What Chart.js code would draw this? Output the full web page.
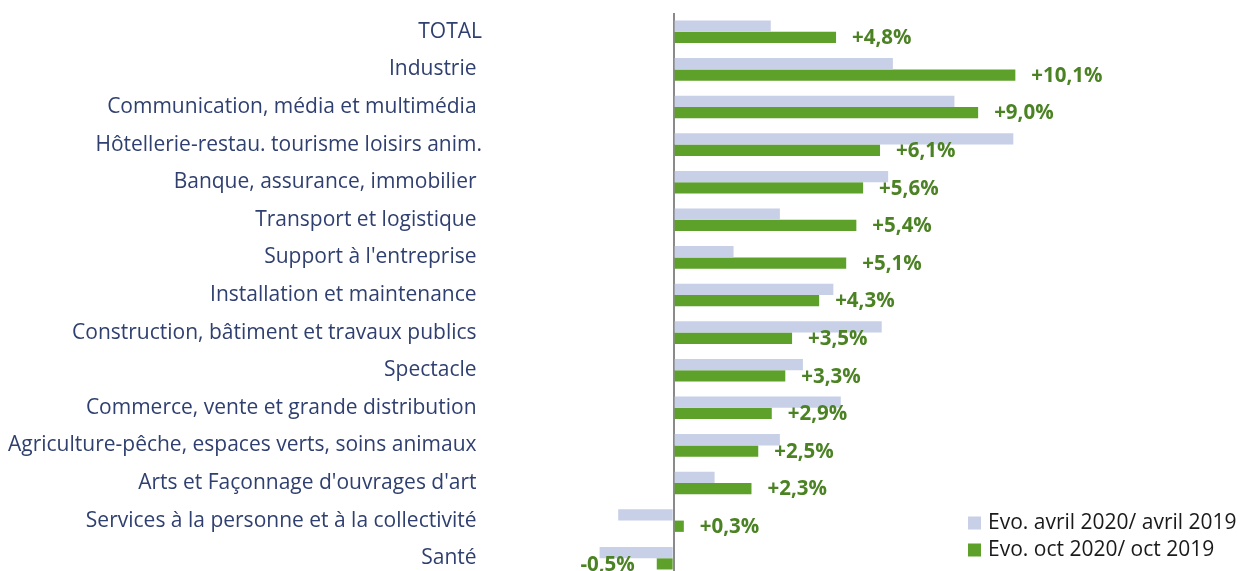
<!DOCTYPE html>
<html>
<head>
<meta charset="utf-8">
<script src="https://cdn.jsdelivr.net/npm/chart.js@4.4.1/dist/chart.umd.min.js"></script>
<style>
  body { margin:0; background:#fff; overflow:hidden; }
  #box { width:1242px; height:571px; overflow:hidden; }
</style>
</head>
<body>
<div id="box"><canvas id="evoChart" width="1242" height="577"></canvas></div>
<script>

const categories = [
  "TOTAL",
  "Industrie ",
  "Communication, média et multimédia ",
  "Hôtellerie-restau. tourisme loisirs anim.",
  "Banque, assurance, immobilier ",
  "Transport et logistique ",
  "Support à l'entreprise ",
  "Installation et maintenance ",
  "Construction, bâtiment et travaux publics ",
  "Spectacle ",
  "Commerce, vente et grande distribution ",
  "Agriculture-pêche, espaces verts, soins animaux ",
  "Arts et Façonnage d'ouvrages d'art ",
  "Services à la personne et à la collectivité ",
  "Santé "
];

const seriesNames = [
  "Evo. avril 2020/ avril 2019",
  "Evo. oct 2020/ oct 2019"
];

const evoAvril = [2.87, 6.48, 8.3, 10.04, 6.34, 3.14, 1.77, 4.72, 6.15, 3.82, 4.94, 3.14, 1.21, -1.64, -2.19];

const evoOct = [4.8, 10.1, 9.0, 6.1, 5.6, 5.4, 5.1, 4.3, 3.5, 3.3, 2.9, 2.5, 2.3, 0.3, -0.5];

/* etiquettes des valeurs (serie oct) */

const valueLabels = {
  id:'valueLabels',
  afterDatasetsDraw(chart){
    const ctx = chart.ctx;
    const meta = chart.getDatasetMeta(1);
    ctx.save();
    ctx.font = "bold 20.5px 'Open Sans'";
    ctx.fillStyle = "#4b8223";
    ctx.textBaseline = "middle";
    meta.data.forEach((bar, i) => {
      const v = evoOct[i];
      const txt = (v > 0 ? "+" : "") + v.toFixed(1).replace(".", ",") + "%";
      if (v < 0) {
        ctx.textAlign = "right";
        ctx.fillText(txt, bar.x - 22, bar.y + 1);
      } else {
        ctx.textAlign = "left";
        ctx.fillText(txt, bar.x + 16, bar.y + 1);
      }
    });
    ctx.restore();
  }
};

/* legende en bas a droite */

const cornerLegend = {
  id:'cornerLegend',
  afterDraw(chart){
    const ctx = chart.ctx;
    const area = chart.chartArea;
    ctx.save();
    ctx.font = "21px 'Open Sans'";
    ctx.textBaseline = "middle";
    ctx.textAlign = "left";
    chart.data.datasets.forEach((ds, i) => {
      const y = area.bottom - 54 + i * 27;
      const x = area.right - 274;
      ctx.fillStyle = ds.backgroundColor;
      ctx.fillRect(x, y - 6.5, 13, 13);
      ctx.fillStyle = "#1a1a1a";
      ctx.fillText(ds.label, x + 20, y);
    });
    ctx.restore();
  }
};

new Chart(document.getElementById("evoChart"), {

  type:'bar',

  data:{
    labels:categories,
    datasets:[
      {
        label:seriesNames[0],
        data:evoAvril,
        backgroundColor:'#c8d0e8',
        categoryPercentage:.6,
        barPercentage:1
      },
      {
        label:seriesNames[1],
        data:evoOct,
        backgroundColor:'#5ea12a',
        categoryPercentage:.6,
        barPercentage:1
      }
    ]
  },

  options:{
    indexAxis:'y',
    responsive:false,
    animation:false,
    layout:{
      padding:{ top:13, right:0, bottom:0, left:0 }
    },
    plugins:{
      legend:{ display:false },
      tooltip:{ enabled:false }
    },
    scales:{
      x:{
        min:-5.4,
        max:16.8,
        afterFit(scale){ scale.height = 0; },
        ticks:{ display:false, stepSize:1 },
        border:{ display:false },
        grid:{
          drawTicks:false,
          lineWidth:2,
          color: c => c.tick && c.tick.value === 0 ? '#8a8a8a' : 'rgba(0,0,0,0)'
        }
      },
      y:{
        afterFit(scale){
          scale.width = 491;
          scale.paddingTop = 0;
          scale.paddingBottom = 0;
        },
        border:{ display:false },
        grid:{ display:false, drawTicks:false },
        ticks:{
          padding:9,
          color:'#2f3f6f',
          font:{ family:'Open Sans', size:21 }
        }
      }
    }
  },

  plugins:[valueLabels, cornerLegend]

});

</script>
</body>
</html>
